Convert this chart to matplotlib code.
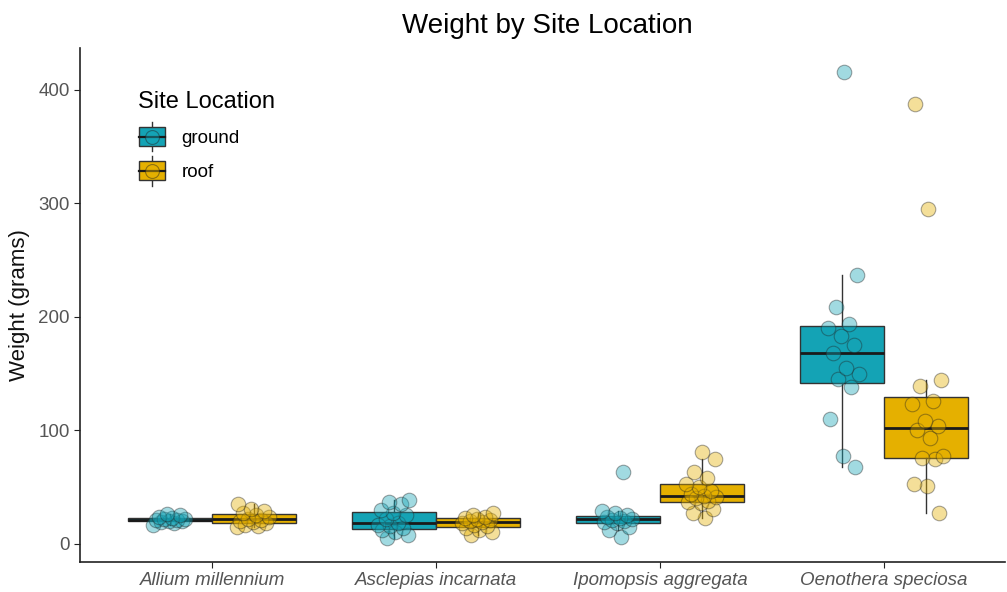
import numpy as np
import matplotlib
matplotlib.use("Agg")
import matplotlib.pyplot as plt
from matplotlib.patches import Rectangle
from matplotlib.lines import Line2D
from matplotlib.legend_handler import HandlerBase

plt.rcParams["font.family"] = ["Liberation Sans", "DejaVu Sans"]

# weights (g) per species and site
species = ["Allium millennium", "Asclepias incarnata", "Ipomopsis aggregata", "Oenothera speciosa"]
sites = ["ground", "roof"]
colors = {"ground": "#14A3B5", "roof": "#E5B000"}

allium_ground = [17, 18, 19, 20, 20, 21, 21, 22, 22, 23, 24, 25, 26]
allium_roof = [15, 16, 17, 18, 19, 20, 21, 22, 24, 25, 27, 29, 31, 35]
asclepias_ground = [5, 8, 10, 12, 14, 16, 17, 18, 22, 25, 27, 30, 35, 37, 39]
asclepias_roof = [8, 10, 12, 14, 16, 17, 18, 19, 20, 21, 22, 23, 24, 25, 27]
ipomopsis_ground = [6, 12, 15, 18, 19, 20, 21, 22, 23, 24, 25, 27, 29, 63]
ipomopsis_roof = [23, 27, 31, 36, 37, 38, 40, 41, 42, 44, 47, 50, 53, 58, 63, 75, 81]
oenothera_ground = [68, 77, 110, 138, 145, 150, 155, 168, 175, 183, 190, 194, 209, 237, 416]
oenothera_roof = [27, 51, 53, 75, 76, 77, 93, 100, 104, 108, 123, 126, 139, 144, 295, 388]

weights = {
    "ground": [allium_ground, asclepias_ground, ipomopsis_ground, oenothera_ground],
    "roof": [allium_roof, asclepias_roof, ipomopsis_roof, oenothera_roof],
}

fig = plt.figure(figsize=(10.07, 5.92), dpi=100)
ax = fig.add_axes([80 / 1007, 30 / 592, 925 / 1007, 514 / 592])

box_w = 0.375
dodge = {"ground": -box_w / 2, "roof": box_w / 2}
x = np.arange(len(species))

for site in sites:
    pos = x + dodge[site]
    bp = ax.boxplot(weights[site], positions=pos, widths=box_w, patch_artist=True,
                    showfliers=False, showcaps=False, whis=1.5,
                    boxprops=dict(facecolor=colors[site], edgecolor="#333333", linewidth=1.0),
                    medianprops=dict(color="#1a1a1a", linewidth=2.0),
                    whiskerprops=dict(color="#333333", linewidth=1.0),
                    zorder=2)
    for i, vals in enumerate(weights[site]):
        n = len(vals)
        # fixed spread along x so overlapping points stay visible
        jit = ((np.arange(n) * 0.618 + 0.3 * i) % 1 - 0.5) * 0.15
        ax.scatter(pos[i] + jit, vals, s=110, color=colors[site], alpha=0.4,
                   edgecolors="#222222", linewidths=0.8, zorder=3)


class BoxKey(HandlerBase):
    def __init__(self, color):
        super().__init__()
        self.color = color

    def create_artists(self, legend, orig_handle, xdescent, ydescent, width, height, fontsize, trans):
        cx = width / 2 - xdescent
        cy = height / 2 - ydescent
        bw, bh = width * 0.95, height * 0.95
        arts = [
            Line2D([cx, cx], [cy - height * 0.75, cy + height * 0.75], color="#333333", lw=1.0),
            Rectangle((cx - bw / 2, cy - bh / 2), bw, bh, facecolor=self.color,
                      edgecolor="#333333", lw=1.0),
            Line2D([cx - bw / 2, cx + bw / 2], [cy, cy], color="#1a1a1a", lw=1.6),
            Line2D([cx], [cy], marker="o", markersize=10, color=self.color, alpha=0.45,
                   markeredgecolor="#222222", markeredgewidth=0.8, lw=0),
        ]
        for a in arts:
            a.set_transform(trans)
        return arts


h_ground = Rectangle((0, 0), 1, 1)
h_roof = Rectangle((0, 0), 1, 1)
leg = ax.legend([h_ground, h_roof], sites, title="Site Location",
                handler_map={h_ground: BoxKey(colors["ground"]), h_roof: BoxKey(colors["roof"])},
                loc="upper left", bbox_to_anchor=(0.045, 0.95), frameon=False,
                fontsize=13.5, title_fontsize=17, handlelength=1.45, handleheight=1.25,
                labelspacing=0.75, handletextpad=0.85, alignment="left")

ax.set_xlim(-0.59, 3.54)
ax.set_ylim(-16, 437)
ax.set_xticks(x)
ax.set_xticklabels(species, fontstyle="italic")
ax.set_yticks([0, 100, 200, 300, 400])
ax.tick_params(axis="both", colors="#222222", labelcolor="#555555", labelsize=13.5, length=4)
for s in ["top", "right"]:
    ax.spines[s].set_visible(False)
for s in ["left", "bottom"]:
    ax.spines[s].set_linewidth(1.2)
    ax.spines[s].set_color("#222222")

ax.set_ylabel("Weight (grams)", fontsize=16, color="#111111", labelpad=6)
fig.suptitle("Weight by Site Location", fontsize=20, x=547 / 1007, y=0.978, va="top")

fig.savefig("out.png", dpi=100)
